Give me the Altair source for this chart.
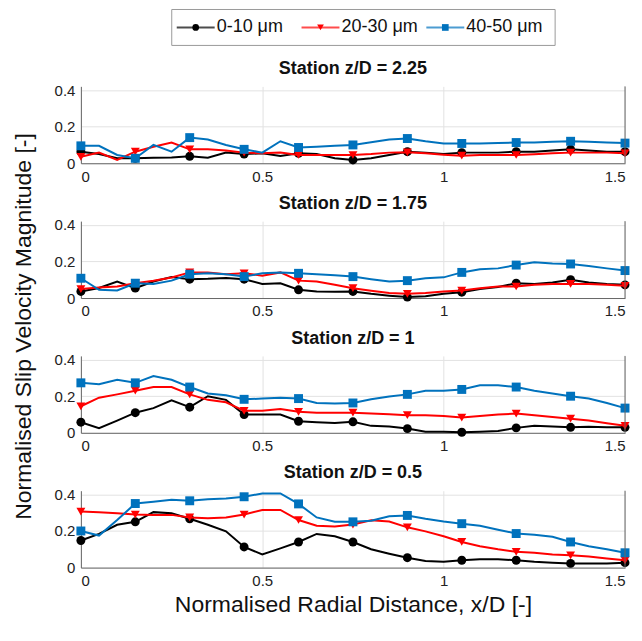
import altair as alt
import pandas as pd

# ---------------- data ----------------
X_POS = [0.00, 0.05, 0.10, 0.15, 0.20, 0.25, 0.30, 0.35, 0.40, 0.45, 0.50,
         0.55, 0.60, 0.65, 0.70, 0.75, 0.80, 0.85, 0.90, 0.95, 1.00,
         1.05, 1.10, 1.15, 1.20, 1.25, 1.30, 1.35, 1.40, 1.45, 1.50]

STATIONS = ["Station z/D = 2.25", "Station z/D = 1.75", "Station z/D = 1", "Station z/D = 0.5"]
SERIES = ["0-10 μm", "20-30 μm", "40-50 μm"]
COLORS = ["#000000", "#FF0000", "#0072BD"]
SHAPES = ["circle", "triangle-down", "square"]

# Station z/D = 2.25
S225_0_10 = [0.063, 0.050, 0.027, 0.027, 0.030, 0.032, 0.038, 0.030, 0.058, 0.050, 0.054,
             0.040, 0.054, 0.050, 0.027, 0.018, 0.027, 0.045, 0.063, 0.058, 0.050,
             0.058, 0.058, 0.058, 0.063, 0.063, 0.070, 0.076, 0.070, 0.063, 0.063]
S225_20_30 = [0.035, 0.058, 0.018, 0.063, 0.090, 0.113, 0.076, 0.076, 0.070, 0.058, 0.054,
              0.058, 0.045, 0.045, 0.045, 0.045, 0.050, 0.058, 0.060, 0.054, 0.047,
              0.041, 0.045, 0.045, 0.045, 0.049, 0.054, 0.058, 0.058, 0.058, 0.054]
S225_40_50 = [0.095, 0.095, 0.045, 0.027, 0.100, 0.063, 0.140, 0.130, 0.100, 0.076, 0.058,
              0.120, 0.086, 0.090, 0.095, 0.100, 0.115, 0.130, 0.135, 0.120, 0.108,
              0.108, 0.108, 0.110, 0.113, 0.113, 0.117, 0.120, 0.117, 0.113, 0.110]

# Station z/D = 1.75
S175_0_10 = [0.036, 0.055, 0.090, 0.054, 0.090, 0.115, 0.103, 0.105, 0.110, 0.103, 0.077,
             0.081, 0.045, 0.036, 0.034, 0.036, 0.023, 0.013, 0.005, 0.010, 0.023,
             0.032, 0.049, 0.060, 0.081, 0.077, 0.085, 0.100, 0.085, 0.077, 0.072]
S175_20_30 = [0.049, 0.058, 0.063, 0.081, 0.094, 0.112, 0.140, 0.140, 0.130, 0.135, 0.122,
              0.140, 0.095, 0.090, 0.072, 0.054, 0.040, 0.027, 0.023, 0.027, 0.036,
              0.041, 0.054, 0.063, 0.063, 0.072, 0.076, 0.077, 0.077, 0.072, 0.067]
S175_40_50 = [0.108, 0.045, 0.041, 0.081, 0.077, 0.095, 0.130, 0.135, 0.130, 0.117, 0.135,
              0.139, 0.135, 0.130, 0.125, 0.117, 0.103, 0.090, 0.095, 0.108, 0.113,
              0.140, 0.157, 0.162, 0.180, 0.195, 0.189, 0.186, 0.175, 0.162, 0.150]

# Station z/D = 1
S100_0_10 = [0.058, 0.025, 0.067, 0.110, 0.135, 0.177, 0.140, 0.200, 0.180, 0.100, 0.100,
             0.100, 0.063, 0.058, 0.054, 0.060, 0.038, 0.035, 0.023, 0.006, 0.006,
             0.003, 0.006, 0.010, 0.027, 0.038, 0.035, 0.030, 0.033, 0.030, 0.030]
S100_20_30 = [0.145, 0.192, 0.210, 0.230, 0.250, 0.250, 0.210, 0.180, 0.167, 0.120, 0.120,
              0.130, 0.115, 0.110, 0.110, 0.110, 0.105, 0.102, 0.096, 0.096, 0.092,
              0.083, 0.092, 0.100, 0.105, 0.096, 0.087, 0.077, 0.067, 0.052, 0.038]
S100_40_50 = [0.273, 0.265, 0.290, 0.273, 0.310, 0.290, 0.250, 0.215, 0.205, 0.183, 0.187,
              0.192, 0.187, 0.163, 0.160, 0.163, 0.183, 0.198, 0.210, 0.230, 0.230,
              0.237, 0.260, 0.260, 0.250, 0.230, 0.215, 0.200, 0.187, 0.163, 0.135]

# Station z/D = 0.5
S050_0_10 = [0.148, 0.184, 0.234, 0.250, 0.303, 0.297, 0.267, 0.234, 0.198, 0.113, 0.072,
             0.105, 0.140, 0.184, 0.171, 0.140, 0.100, 0.076, 0.054, 0.036, 0.032,
             0.040, 0.045, 0.045, 0.040, 0.032, 0.027, 0.023, 0.022, 0.023, 0.027]
S050_20_30 = [0.306, 0.303, 0.297, 0.290, 0.288, 0.288, 0.274, 0.270, 0.274, 0.290, 0.315,
              0.315, 0.260, 0.229, 0.225, 0.235, 0.258, 0.252, 0.220, 0.198, 0.171,
              0.140, 0.117, 0.100, 0.086, 0.081, 0.072, 0.067, 0.060, 0.050, 0.040]
S050_40_50 = [0.200, 0.175, 0.260, 0.350, 0.360, 0.370, 0.365, 0.373, 0.378, 0.387, 0.405,
              0.405, 0.348, 0.274, 0.250, 0.250, 0.256, 0.280, 0.285, 0.267, 0.252,
              0.240, 0.229, 0.207, 0.186, 0.180, 0.168, 0.140, 0.117, 0.100, 0.081]

STATION_DATA = [
    [S225_0_10, S225_20_30, S225_40_50],
    [S175_0_10, S175_20_30, S175_40_50],
    [S100_0_10, S100_20_30, S100_40_50],
    [S050_0_10, S050_20_30, S050_40_50],
]

rows = []
for st, sers in zip(STATIONS, STATION_DATA):
    for name, vals in zip(SERIES, sers):
        for i, (xv, v) in enumerate(zip(X_POS, vals)):
            rows.append(dict(station=st, series=name, x=xv, v=v, marker=(i % 3 == 0)))
df = pd.DataFrame(rows)

# ---------------- chart ----------------
FONT = "Liberation Sans"
W, H = 545, 77

color_scale = alt.Scale(domain=SERIES, range=COLORS)
shape_scale = alt.Scale(domain=SERIES, range=SHAPES)
x_scale = alt.Scale(domain=[0, 1.5], nice=False, zero=False)
y_scale = alt.Scale(domain=[0, 0.42], nice=False)


def panel(idx):
    st = STATIONS[idx]
    x_axis_kwargs = dict(values=[0, 0.5, 1, 1.5], format="~g")
    if idx == 3:
        x_axis_kwargs.update(title="Normalised Radial Distance, x/D [-]", titlePadding=5)
    else:
        x_axis_kwargs.update(title=None)
    y_axis_kwargs = dict(values=[0, 0.2, 0.4], format="~g")
    if idx == 0:
        y_axis_kwargs.update(title="Normalised Slip Velocity Magnitude [-]",
                             titleY=240, titlePadding=19)
    else:
        y_axis_kwargs.update(title=None)
    xenc = alt.X("x:Q", scale=x_scale, axis=alt.Axis(**x_axis_kwargs))
    yenc = alt.Y("v:Q", scale=y_scale, axis=alt.Axis(**y_axis_kwargs))
    cenc = alt.Color("series:N", scale=color_scale, legend=None)
    senc = alt.Shape("series:N", scale=shape_scale, legend=None)

    base = alt.Chart(df).transform_filter(alt.datum.station == st)
    layers = []
    for s in SERIES:
        b = base.transform_filter(alt.datum.series == s)
        layers.append(b.mark_line(strokeWidth=2).encode(x=xenc, y=yenc, color=cenc))
        layers.append(
            b.transform_filter("datum.marker")
            .mark_point(filled=True, size=80, opacity=1)
            .encode(x=xenc, y=yenc, color=cenc, shape=senc)
        )
    right = alt.Chart(pd.DataFrame({"a": [0]})).mark_rule(color="#666", strokeWidth=1).encode(
        x=alt.value(W), y=alt.value(0), y2=alt.value(H)
    )
    return alt.layer(*layers, right).properties(
        width=W, height=H,
        title=alt.TitleParams(st, fontSize=18, fontWeight="bold", anchor="middle",
                              offset=5, color="#111", frame="group"),
    )


# legend drawn as its own small panel
leg_df = pd.DataFrame({"series": SERIES})
leg_x = alt.X("series:N", scale=alt.Scale(type="point", domain=SERIES, range=[115, 365], padding=0), axis=None)
leg_c = alt.Color("series:N", scale=color_scale, legend=None)
leg_s = alt.Shape("series:N", scale=shape_scale, legend=None)
box = alt.Chart(pd.DataFrame({"a": [0]})).mark_rect(fill="white", stroke="#9a9a9a", strokeWidth=1).encode(
    x=alt.value(91), x2=alt.value(475), y=alt.value(0), y2=alt.value(36)
)
leg_line = alt.Chart(leg_df).mark_tick(orient="horizontal", size=38, thickness=2).encode(
    x=leg_x, y=alt.value(18), color=leg_c
)
leg_pt = alt.Chart(leg_df).mark_point(filled=True, size=45, opacity=1).encode(
    x=leg_x, y=alt.value(18), color=leg_c, shape=leg_s
)
leg_txt = alt.Chart(leg_df).mark_text(align="left", baseline="middle", dx=21, fontSize=18, color="#111").encode(
    x=leg_x, y=alt.value(18), text="series:N"
)
legend = alt.layer(box, leg_line, leg_pt, leg_txt).properties(width=W, height=36)

panels = alt.vconcat(*[panel(i) for i in range(4)], spacing=58, bounds="flush")

chart = (
    alt.vconcat(legend, panels, spacing=41, bounds="flush")
    .properties(padding={"left": 4, "top": 0, "right": 4, "bottom": 4})
    .configure(font=FONT)
    .configure_view(stroke=None)
    .configure_axis(
        grid=True, gridColor="#e2e2e2", gridWidth=1,
        domainColor="#666", domainWidth=1,
        ticks=False, labelFontSize=15, labelColor="#222", labelPadding=6,
        titleColor="#111", titleFontWeight="normal", titleFontSize=23, labelFont=FONT, titleFont=FONT,
    )
    .configure_title(font=FONT)
)

chart.save("out.html", embed_options={"renderer": "svg", "actions": False})
